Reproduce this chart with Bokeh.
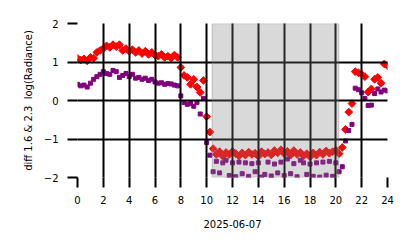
from bokeh.plotting import figure
from bokeh.models import Range1d, BoxAnnotation, FixedTicker
from bokeh.embed import file_html
from bokeh.resources import INLINE

# ---- data ----
hours = [i * 0.25 for i in range(97)]  # 0 .. 24 h, 15-minute samples

diff_red = [
    1.10, 1.05, 1.08, 1.03, 1.12, 1.10, 1.25, 1.30, 1.35, 1.42,
    1.38, 1.45, 1.40, 1.45, 1.30, 1.35, 1.28, 1.32, 1.25, 1.30,
    1.22, 1.28, 1.20, 1.25, 1.18, 1.15, 1.20, 1.12, 1.15, 1.10,
    1.18, 1.12, 0.86, 0.65, 0.60, 0.42, 0.55, 0.35, 0.21, 0.52,
    -0.42, -0.82, -1.25,
    -1.40, -1.33, -1.45, -1.35, -1.40, -1.32, -1.38, -1.44, -1.36, -1.42,
    -1.34, -1.40, -1.37, -1.45, -1.33, -1.39, -1.35, -1.41, -1.30, -1.36,
    -1.28, -1.38, -1.32, -1.42, -1.30, -1.40, -1.35, -1.44, -1.38, -1.46,
    -1.36, -1.42, -1.34, -1.40, -1.31, -1.37, -1.33, -1.29, -1.38,
    -1.22, -0.75, -0.30, -0.08, 0.75, 0.72, 0.68, 0.62, 0.22, 0.30,
    0.55, 0.60, 0.45, 0.95, 0.90,
]

diff_purple = [
    0.42, 0.38, 0.40, 0.35, 0.45, 0.55, 0.62, 0.68, 0.75, 0.70,
    0.68, 0.78, 0.75, 0.60, 0.65, 0.70, 0.62, 0.68, 0.58, 0.60,
    0.55, 0.58, 0.52, 0.55, 0.48, 0.45, 0.46, 0.42, 0.44, 0.43,
    0.40, 0.38, 0.12, -0.05, -0.10, -0.08, -0.15, -0.05, -0.35, 0.05,
    -1.09, -1.42, -1.85,
    -1.58, -1.88, -1.62, -1.55, -1.95, -1.62, -1.98, -1.60, -1.90, -1.62,
    -1.97, -1.64, -1.85, -1.62, -1.99, -1.92, -1.60, -1.96, -1.65, -1.88,
    -1.60, -1.95, -1.52, -1.90, -1.64, -1.98, -1.55, -1.62, -1.92, -1.65,
    -1.97, -1.62, -1.99, -1.60, -1.94, -1.58, -1.97, -1.62, -1.85,
    -1.72, -1.05, -0.78, -0.62, 0.32, 0.28, 0.20, 0.05, -0.13, -0.12,
    0.18, 0.30, 0.22, 0.27, 0.25,
]

night_start = 10.43
night_end = 20.22

x_ticks = [0, 2, 4, 6, 8, 10, 12, 14, 16, 18, 20, 22, 24]
y_ticks = [-2, -1, 0, 1, 2]
y_tick_labels = {-2: "\u22122", -1: "\u22121", 0: "0", 1: "1", 2: "2"}

x_label = "2025-06-07"
y_label = "diff 1.6 & 2.3 \u00a0log(Radiance)"

# ---- figure ----
p = figure(
    width=406, height=240,
    output_backend="svg", toolbar_location=None,
    x_range=Range1d(0, 24), y_range=Range1d(-2, 2),
    min_border_left=77, min_border_right=19,
    min_border_top=23, min_border_bottom=63,
)
p.outline_line_color = None
p.background_fill_color = "white"
p.border_fill_color = "white"

p.scatter(hours, diff_red, marker="square", size=5.5, angle=0.7854,
          fill_color="#ff0000", line_color="#ff0000", line_width=1)
p.scatter(hours, diff_purple, marker="square", size=4,
          fill_color="#800080", line_color="#800080", line_width=1)

shade = BoxAnnotation(left=night_start, right=night_end,
                      fill_color="#808080", fill_alpha=0.3,
                      line_color="#808080", line_alpha=0.3, line_width=1.5)
p.add_layout(shade)

for ax in (p.xaxis, p.yaxis):
    ax.axis_line_color = None
    ax.major_tick_line_color = "black"
    ax.major_tick_line_width = 2
    ax.major_tick_in = 0
    ax.major_tick_out = 10
    ax.minor_tick_line_color = None
    ax.major_label_text_font = "DejaVu Sans"
    ax.major_label_text_font_size = "10px"
    ax.major_label_text_color = "black"
    ax.axis_label_text_font = "DejaVu Sans"
    ax.axis_label_text_font_size = "10px"
    ax.axis_label_text_font_style = "normal"
    ax.axis_label_text_color = "black"

p.xaxis.ticker = FixedTicker(ticks=x_ticks)
p.yaxis.ticker = FixedTicker(ticks=y_ticks)
p.yaxis.major_label_overrides = y_tick_labels
p.xaxis.axis_label = x_label
p.yaxis.axis_label = y_label
p.xaxis.major_label_standoff = 8
p.yaxis.major_label_standoff = 9
p.xaxis.axis_label_standoff = 13
p.yaxis.axis_label_standoff = 7

for g in (p.xgrid, p.ygrid):
    g.grid_line_color = "black"
    g.grid_line_width = 2
    g.grid_line_alpha = 1.0
    g.level = "guide"

open("out.html", "w").write(file_html(p, INLINE))
